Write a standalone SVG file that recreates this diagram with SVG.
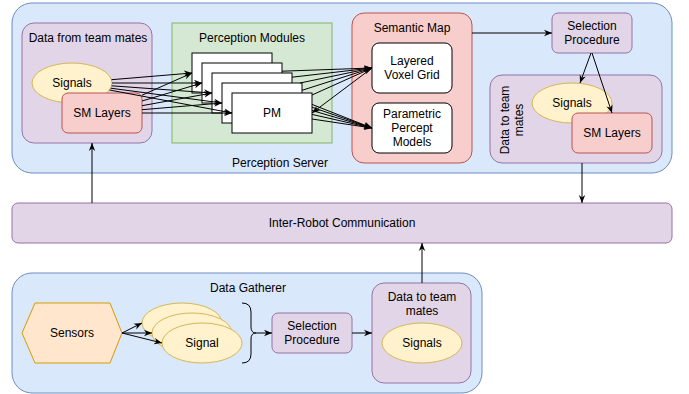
<svg xmlns="http://www.w3.org/2000/svg" width="689" height="394" viewBox="0 0 689 394">
<defs>
<marker id="a" viewBox="0 0 10 10" refX="10" refY="5" markerWidth="8" markerHeight="8" orient="auto" markerUnits="userSpaceOnUse"><path d="M0,1 L10,5 L0,9 L3,5 z" fill="#000"/></marker>
<style>
text{font-family:"Liberation Sans",Arial,sans-serif;font-size:12px;fill:#000;text-anchor:middle;dominant-baseline:central}
.blue{fill:#dae8fc;stroke:#6c8ebf}
.purp{fill:#e1d5e7;stroke:#9673a6}
.yel{fill:#fff2cc;stroke:#d6b656}
.red{fill:#f8cecc;stroke:#b85450}
.grn{fill:#d5e8d4;stroke:#82b366}
.wht{fill:#fff;stroke:#000}
.org{fill:#ffe6cc;stroke:#d79b00}
.e{fill:none;stroke:#000;stroke-width:1;marker-end:url(#a)}
.n{fill:none;stroke:#000;stroke-width:1}
</style>
</defs>
<g id="perception-server"><rect class="blue" x="12" y="3" width="660" height="170" rx="20"/><text x="280" y="163">Perception Server</text></g>
<g id="data-from-team-mates"><rect class="purp" x="22" y="23" width="130" height="120" rx="12"/><text x="88" y="38">Data from team mates</text></g>
<g id="signals-in"><ellipse class="yel" cx="72" cy="83" rx="40" ry="20"/><text x="72" y="83">Signals</text></g>
<g id="sm-layers-in"><rect class="red" x="62" y="93" width="80" height="40" rx="6"/><text x="102" y="113">SM Layers</text></g>
<g id="perception-modules"><rect class="grn" x="172" y="23" width="160" height="120"/><text x="252" y="38">Perception Modules</text></g>
<g id="pm"><rect class="wht" x="192" y="53" width="80" height="40"/><rect class="wht" x="202" y="63" width="80" height="40"/><rect class="wht" x="212" y="73" width="80" height="40"/><rect class="wht" x="222" y="83" width="80" height="40"/><rect class="wht" x="232" y="93" width="80" height="40"/><text x="272" y="113">PM</text></g>
<g id="semantic-map"><rect class="red" x="352" y="13" width="120" height="150" rx="12"/><text x="412" y="28">Semantic Map</text></g>
<g id="layered-voxel-grid"><rect class="wht" x="372" y="43" width="80" height="50" rx="7"/><text x="412" y="61">Layered</text><text x="412" y="75">Voxel Grid</text></g>
<g id="parametric-percept-models"><rect class="wht" x="372" y="103" width="80" height="50" rx="7"/><text x="412" y="114">Parametric</text><text x="412" y="128">Percept</text><text x="412" y="142">Models</text></g>
<g id="selection-procedure-top"><rect class="purp" x="552" y="13" width="80" height="40" rx="6"/><text x="592" y="26">Selection</text><text x="592" y="40">Procedure</text></g>
<g id="data-to-team-mates-top"><rect class="purp" x="490" y="75" width="172" height="88" rx="12"/><g transform="translate(512,120) rotate(-90)"><text x="0" y="-7">Data to team</text><text x="0" y="7">mates</text></g></g>
<g id="signals-out"><ellipse class="yel" cx="572" cy="103" rx="40" ry="20"/><text x="572" y="103">Signals</text></g>
<g id="sm-layers-out"><rect class="red" x="572" y="113" width="80" height="40" rx="6"/><text x="612" y="133">SM Layers</text></g>
<g id="inter-robot-communication"><rect class="purp" x="12" y="203" width="660" height="40" rx="6"/><text x="342" y="223">Inter-Robot Communication</text></g>
<g id="data-gatherer"><rect class="blue" x="12" y="273" width="470" height="120" rx="20"/><text x="248" y="288">Data Gatherer</text></g>
<g id="sensors"><polygon class="org" points="22,333 35,303 110,303 122,333 110,363 35,363"/><text x="72" y="333">Sensors</text></g>
<g id="signal"><ellipse class="yel" cx="182" cy="323" rx="40" ry="20"/><ellipse class="yel" cx="192" cy="333" rx="40" ry="20"/><ellipse class="yel" cx="202" cy="343" rx="40" ry="20"/><text x="202" y="343">Signal</text></g>
<g id="brace"><path class="n" d="M242,303 Q251,303 251,312 L251,327 Q251,333 256,333 Q251,333 251,339 L251,354 Q251,363 242,363"/></g>
<g id="selection-procedure-bottom"><rect class="purp" x="272" y="313" width="80" height="40" rx="6"/><text x="312" y="326">Selection</text><text x="312" y="340">Procedure</text></g>
<g id="data-to-team-mates-bottom"><rect class="purp" x="372" y="283" width="99" height="100" rx="12"/><text x="422" y="297">Data to team</text><text x="422" y="311">mates</text></g>
<g id="signals-bottom"><ellipse class="yel" cx="422" cy="343" rx="40" ry="20"/><text x="422" y="343">Signals</text></g>
<g id="connectors">
<line class="e" x1="111.5" y1="79.7" x2="192" y2="73"/>
<line class="e" x1="112" y1="83" x2="202" y2="83"/>
<line class="e" x1="111.6" y1="85.8" x2="212" y2="93"/>
<line class="e" x1="110.7" y1="88.2" x2="222" y2="103"/>
<line class="e" x1="109.5" y1="90" x2="232" y2="113"/>
<line class="e" x1="142" y1="95.2" x2="192" y2="73"/>
<line class="e" x1="142" y1="101" x2="202" y2="83"/>
<line class="e" x1="142" y1="105.7" x2="212" y2="93"/>
<line class="e" x1="142" y1="109.7" x2="222" y2="103"/>
<line class="e" x1="142" y1="113" x2="232" y2="113"/>
<line class="e" x1="282" y1="71.2" x2="372" y2="68"/>
<line class="e" x1="292" y1="77.2" x2="372" y2="68"/>
<line class="e" x1="300" y1="83" x2="372" y2="68"/>
<line class="e" x1="302" y1="90.3" x2="372" y2="68"/>
<line class="e" x1="312" y1="95" x2="372" y2="68"/>
<line class="e" x1="312" y1="104.4" x2="372" y2="128"/>
<line class="e" x1="312" y1="107.2" x2="372" y2="128"/>
<line class="e" x1="312" y1="110.5" x2="372" y2="128"/>
<line class="e" x1="312" y1="114.4" x2="372" y2="128"/>
<line class="e" x1="312" y1="119" x2="372" y2="128"/>
<line class="e" x1="372" y1="68" x2="312" y2="113"/>
<line class="e" x1="472" y1="33" x2="552" y2="33"/>
<line class="e" x1="591" y1="53" x2="580" y2="83"/>
<line class="e" x1="592" y1="53" x2="612" y2="113"/>
<line class="e" x1="92" y1="203" x2="92" y2="143"/>
<line class="e" x1="582" y1="163" x2="582" y2="203"/>
<line class="e" x1="422" y1="283" x2="422" y2="243"/>
<line class="e" x1="122" y1="333" x2="142" y2="323"/>
<line class="e" x1="122" y1="333" x2="152" y2="333"/>
<line class="e" x1="122" y1="333" x2="162" y2="343"/>
<line class="e" x1="256" y1="333" x2="272" y2="333"/>
<line class="e" x1="352" y1="333" x2="372" y2="333"/>
</g>
</svg>
